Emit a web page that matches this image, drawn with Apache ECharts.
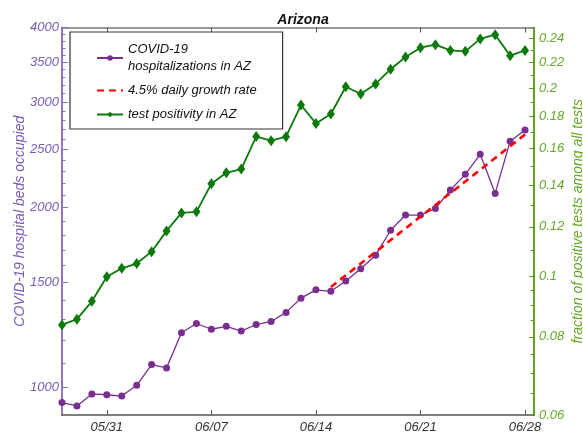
<!DOCTYPE html>
<html>
<head>
<meta charset="utf-8">
<script src="https://cdn.jsdelivr.net/npm/echarts@6/dist/echarts.min.js"></script>
<style>
  html, body { margin: 0; padding: 0; background: #fff; }
  #chart { width: 583px; height: 435px; }
</style>
</head>
<body>
<div id="chart"></div>
<script>
// day 0 = 05/28
const days = [0,1,2,3,4,5,6,7,8,9,10,11,12,13,14,15,16,17,18,19,20,21,22,23,24,25,26,27,28,29,30,31];
const hospitalized = [944,932,976,973,968,1009,1093,1079,1235,1280,1252,1266,1243,1275,1290,1336,
  1411,1457,1449,1508,1580,1665,1833,1943,1943,1993,2140,2273,2455,2112,2581,2697];
const positivity = [0.0836,0.0854,0.0912,0.0998,0.1030,0.1048,0.1095,0.1182,0.1263,0.1268,0.1406,
  0.1464,0.1484,0.1673,0.1648,0.1672,0.1879,0.1756,0.1818,0.2010,0.1957,0.2031,0.2144,0.2243,
  0.2321,0.2347,0.2298,0.2290,0.2397,0.2435,0.2254,0.2298];
// 4.5% daily growth reference line (end points)
const growthDays = [18, 31];
const growthValues = [1473, 2649];

const tickDays = [3, 10, 17, 24, 31];
const tickLabels = ['05/31', '06/07', '06/14', '06/21', '06/28'];
const leftMajor = [1000, 1500, 2000, 2500, 3000, 3500, 4000];
const leftMinor = [1100,1200,1300,1400,1600,1700,1800,1900,2100,2200,2300,2400,2600,2700,2800,2900,
  3100,3200,3300,3400,3600,3700,3800,3900];
const rightMajor = [0.06, 0.08, 0.1, 0.12, 0.14, 0.16, 0.18, 0.2, 0.22, 0.24];
const rightMinor = [0.065,0.07,0.075,0.085,0.09,0.095,0.11,0.13,0.15,0.17,0.19,0.21,0.23,0.25];

const lg = Math.log10;
const FONT = 'Liberation Sans, Arial, sans-serif';
const purple = '#7a2f8f', purpleAxis = '#8b6cc2', purpleText = '#7b5bb5';
const green = '#0b7a0b', greenAxis = '#5a9e14', greenText = '#66a828';

const chart = echarts.init(document.getElementById('chart'));

function yAx(pos, min, max, color, textColor, ticks, len, labels, fmt, name, gap) {
  return {
    type: 'value', position: pos, min: min, max: max,
    axisLine: { show: true, lineStyle: { color: color, width: 1.5 } },
    axisTick: { inside: true, length: len, customValues: ticks.map(lg), lineStyle: { color: color, width: 1 } },
    axisLabel: labels ? {
      customValues: ticks.map(lg), formatter: fmt, margin: pos === 'left' ? 3 : 5,
      color: textColor, fontStyle: 'italic', fontSize: 13, fontFamily: FONT
    } : { show: false },
    splitLine: { show: false },
    name: name || '', nameLocation: 'middle', nameGap: gap || 37, nameRotate: 90, nameMoveOverlap: false,
    nameTextStyle: { color: textColor, fontStyle: 'italic', fontSize: 14, fontFamily: FONT }
  };
}

const option = {
  animation: false,
  backgroundColor: '#fff',
  title: {
    text: 'Arizona', left: 298, top: 8, textAlign: 'center',
    textStyle: { fontSize: 14, fontWeight: 'bold', fontStyle: 'italic', color: '#111', fontFamily: FONT }
  },
  grid: { left: 62, right: 49, top: 27.5, bottom: 20, containLabel: false, outerBoundsMode: 'none' },
  legend: {
    orient: 'vertical', left: 70, top: 32,
    padding: [9, 26, 6, 26], itemGap: 7, itemWidth: 26, itemHeight: 7,
    borderColor: '#333', borderWidth: 1.2, backgroundColor: '#fff',
    textStyle: { fontStyle: 'italic', fontSize: 13, color: '#111', fontFamily: FONT, lineHeight: 17 },
    data: [
      'COVID-19\nhospitalizations in AZ',
      { name: '4.5% daily growth rate', itemStyle: { opacity: 0 } },
      'test positivity in AZ'
    ]
  },
  xAxis: [
    {
      type: 'value', position: 'bottom', min: 0, max: 31.6,
      axisLine: { lineStyle: { color: '#555', width: 1.5 } },
      axisTick: { inside: true, length: 5, customValues: tickDays, lineStyle: { color: '#555' } },
      axisLabel: {
        customValues: tickDays, margin: 6,
        formatter: v => tickLabels[tickDays.indexOf(Math.round(v))],
        color: '#333', fontStyle: 'italic', fontSize: 13, fontFamily: FONT
      },
      splitLine: { show: false }
    },
    {
      type: 'value', position: 'top', min: 0, max: 31.6,
      axisLine: { lineStyle: { color: '#777', width: 1.5 } },
      axisTick: { inside: true, length: 5, customValues: tickDays, lineStyle: { color: '#555' } },
      axisLabel: { show: false },
      splitLine: { show: false }
    }
  ],
  yAxis: [
    yAx('left', lg(900), lg(4000), purpleAxis, purpleText, leftMajor, 6, true,
      v => String(Math.round(Math.pow(10, v))), 'COVID-19 hospital beds occupied', 35),
    yAx('left', lg(900), lg(4000), purpleAxis, purpleText, leftMinor, 3.5, false),
    yAx('right', lg(0.06), lg(0.25), greenAxis, greenText, rightMajor, 5, true,
      v => String(Math.round(Math.pow(10, v) * 100) / 100), 'fraction of positive tests among all tests', 37),
    yAx('right', lg(0.06), lg(0.25), greenAxis, greenText, rightMinor, 3.5, false)
  ],
  series: [
    {
      name: 'COVID-19\nhospitalizations in AZ', type: 'line', xAxisIndex: 0, yAxisIndex: 0,
      data: days.map((d, i) => [d, lg(hospitalized[i])]),
      symbol: 'circle', symbolSize: 7,
      lineStyle: { color: purple, width: 1.3 }, itemStyle: { color: purple }, z: 3
    },
    {
      name: '4.5% daily growth rate', type: 'line', xAxisIndex: 0, yAxisIndex: 0,
      data: growthDays.map((d, i) => [d, lg(growthValues[i])]),
      symbol: 'none',
      lineStyle: { color: '#ff0000', width: 2.6, type: [7, 5] }, itemStyle: { color: '#ff0000' }, z: 4
    },
    {
      name: 'test positivity in AZ', type: 'line', xAxisIndex: 0, yAxisIndex: 2,
      data: days.map((d, i) => [d, lg(positivity[i])]),
      symbol: 'diamond', symbolSize: [8, 11],
      lineStyle: { color: green, width: 1.8 }, itemStyle: { color: green }, z: 3
    }
  ]
};
chart.setOption(option);
</script>
</body>
</html>
